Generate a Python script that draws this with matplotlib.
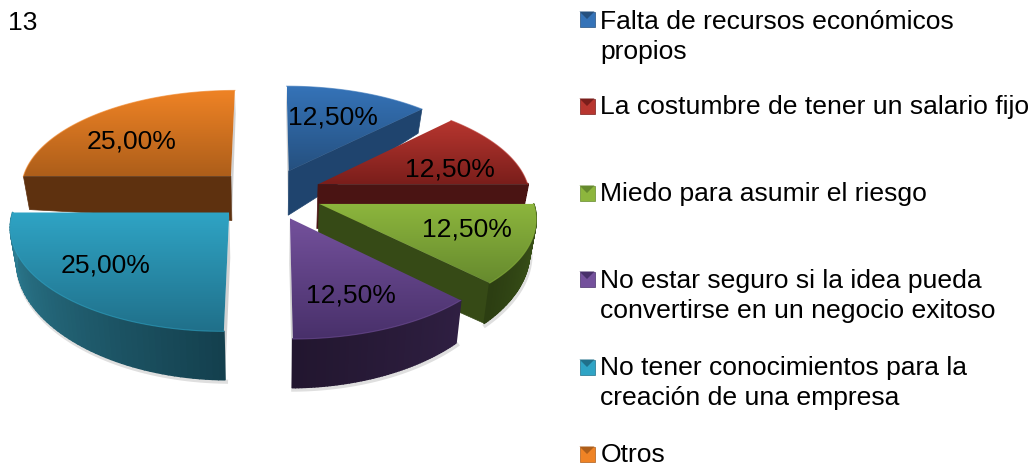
import numpy as np
import matplotlib
matplotlib.use("Agg")
import matplotlib.pyplot as plt
from matplotlib.collections import PolyCollection
from matplotlib.colors import LinearSegmentedColormap, to_rgb
from matplotlib.patches import Polygon

categories = [
    "Falta de recursos económicos\npropios",
    "La costumbre de tener un salario fijo",
    "Miedo para asumir el riesgo",
    "No estar seguro si la idea pueda\nconvertirse en un negocio exitoso",
    "No tener conocimientos para la\ncreación de una empresa",
    "Otros",
]
values = [12.5, 12.5, 12.5, 12.5, 25.0, 25.0]
labels = ["12,50%", "12,50%", "12,50%", "12,50%", "25,00%", "25,00%"]

top_light = ["#3573b8", "#b8362f", "#8db63d", "#74519c", "#2fa4c5", "#ef8325"]
top_dark = ["#25507f", "#7a1e1b", "#668a2e", "#48306a", "#20708a", "#ad5e1a"]
cut_color = ["#1f446e", "#4a1413", "#364a16", "#2b1c3c", "#163f4d", "#5e310f"]
rim_light = ["#1f446e", "#4a1413", "#3f5a1b", "#2f1f42", "#2f8298", "#5e310f"]
rim_dark = ["#1f446e", "#4a1413", "#2c3e12", "#22162f", "#14404e", "#5e310f"]

# where things sit on the page, in pixels
label_pos = [(333, 117), (450, 169), (467, 229), (351, 296), (106, 266), (132, 141)]
legend_y = [19, 106, 193, 279, 367, 454]
legend_text_y = [37, 107, 194, 296, 383, 455]

CX, CY = 268.5, 194
RX, RY = 212, 100
PERSP = 0.119
EXPLODE = 0.256
FONT = "Liberation Sans"


def project(x, y):
    f = 1 / (1 - PERSP * y)
    return CX + RX * x * f, CY + RY * y * f


def depth(x, y):
    return 45 + 3 * y - 8 * x ** 2 - 20 * np.maximum(0, -y - 0.3)


def bottom(x, y):
    sx, sy = project(x, y)
    return CX + (sx - CX) * 0.975, sy + depth(x, y)


def gradient_fill(ax, xs, ys, c1, c2, zorder):
    cmap = LinearSegmentedColormap.from_list("g", [c1, c2])
    poly = Polygon(np.column_stack([xs, ys]), closed=True, transform=ax.transData,
                   facecolor="none", edgecolor="none")
    ax.add_patch(poly)
    grad = np.linspace(0, 1, 256).reshape(-1, 1)
    im = ax.imshow(grad, cmap=cmap, aspect="auto", zorder=zorder,
                   extent=(min(xs), max(xs), max(ys), min(ys)), interpolation="bilinear")
    im.set_clip_path(poly)


def draw_slice(ax, start, end, i, zorder):
    mid = (start + end) / 2
    ox, oy = EXPLODE * np.sin(mid), -EXPLODE * np.cos(mid)
    t = np.linspace(start, end, 60)
    rx, ry = ox + np.sin(t), oy - np.cos(t)
    mdir = np.array([np.sin(mid), -np.cos(mid)])

    # soft edge under the front part of the slice
    bx, by = bottom(rx, ry)
    front = np.cos(t) < 0.02
    if front.any():
        ax.plot(bx[front] + 1, by[front] + 2, color="#808080", lw=3, alpha=0.25, zorder=zorder)

    # flat cut faces: only the ones facing the viewer, edge on ones leave a grey shadow
    for ang in (start, end):
        edge = np.array([np.sin(ang), -np.cos(ang)])
        inward = mdir - mdir.dot(edge) * edge
        ex, ey = ox + edge[0], oy + edge[1]
        quad = [project(ox, oy), project(ex, ey), bottom(ex, ey), bottom(ox, oy)]
        if abs(inward[1]) < 0.01:
            ax.add_patch(Polygon(quad, closed=True, facecolor="#999999",
                                 edgecolor="none", alpha=0.45, zorder=zorder))
        elif inward[1] < 0:
            ax.add_patch(Polygon(quad, closed=True, facecolor=cut_color[i],
                                 edgecolor=cut_color[i], lw=0.5, zorder=zorder))

    # outer rim, shaded along the arc
    sx, sy = project(rx, ry)
    c1, c2 = np.array(to_rgb(rim_light[i])), np.array(to_rgb(rim_dark[i]))
    frac = np.linspace(0, 1, len(t) - 1)
    if i == 4:
        frac = frac[::-1]
    quads = []
    cols = []
    for k in range(len(t) - 1):
        if front[k] and front[k + 1]:
            quads.append([(sx[k], sy[k]), (sx[k + 1], sy[k + 1]), (bx[k + 1], by[k + 1]), (bx[k], by[k])])
            cols.append(c1 + (c2 - c1) * frac[k])
    if quads:
        ax.add_collection(PolyCollection(quads, facecolors=cols, edgecolors=cols, lw=1.2, zorder=zorder))

    # top surface
    ax_, ay_ = project(ox, oy)
    xs = np.concatenate([[ax_], sx])
    ys = np.concatenate([[ay_], sy])
    gradient_fill(ax, xs, ys, top_light[i], top_dark[i], zorder + 0.1)
    ax.plot(sx, sy, color=top_light[i], lw=0.8, alpha=0.6, zorder=zorder + 0.2)


def legend_key(ax, x, y, i):
    s = 7.5
    c = (x, y)
    tl, tr, br, bl = (x - s, y - s), (x + s, y - s), (x + s, y + s), (x - s, y + s)
    light = top_light[i]
    dark = top_dark[i]
    ax.add_patch(Polygon([tl, tr, br, bl], facecolor=light, edgecolor=dark, lw=0.5, zorder=19))
    ax.add_patch(Polygon([tl, tr, c], facecolor=dark, edgecolor="none", zorder=20))


fig = plt.figure(figsize=(10.35, 4.68), dpi=100)
ax = fig.add_axes([0, 0, 1, 1])

angles = np.cumsum([0] + values) / sum(values) * 2 * np.pi
order = [0, 5, 1, 2, 4, 3]
for z, i in enumerate(order):
    draw_slice(ax, angles[i], angles[i + 1], i, 2 + z)

for (x, y), lab in zip(label_pos, labels):
    ax.text(x, y, lab, ha="center", va="center", fontsize=19.05, family=FONT, color="black", zorder=15)

ax.text(8, 23, "13", ha="left", va="center", fontsize=19.05, family=FONT, color="black")

for i, cat in enumerate(categories):
    legend_key(ax, 587, legend_y[i], i)
    ax.text(600.5, legend_text_y[i], cat, ha="left", va="center", fontsize=19.05, family=FONT,
            color="black", linespacing=1.27)

ax.set_xlim(0, 1035)
ax.set_ylim(468, 0)
ax.axis("off")
fig.savefig("out.png", dpi=100)
plt.close(fig)
